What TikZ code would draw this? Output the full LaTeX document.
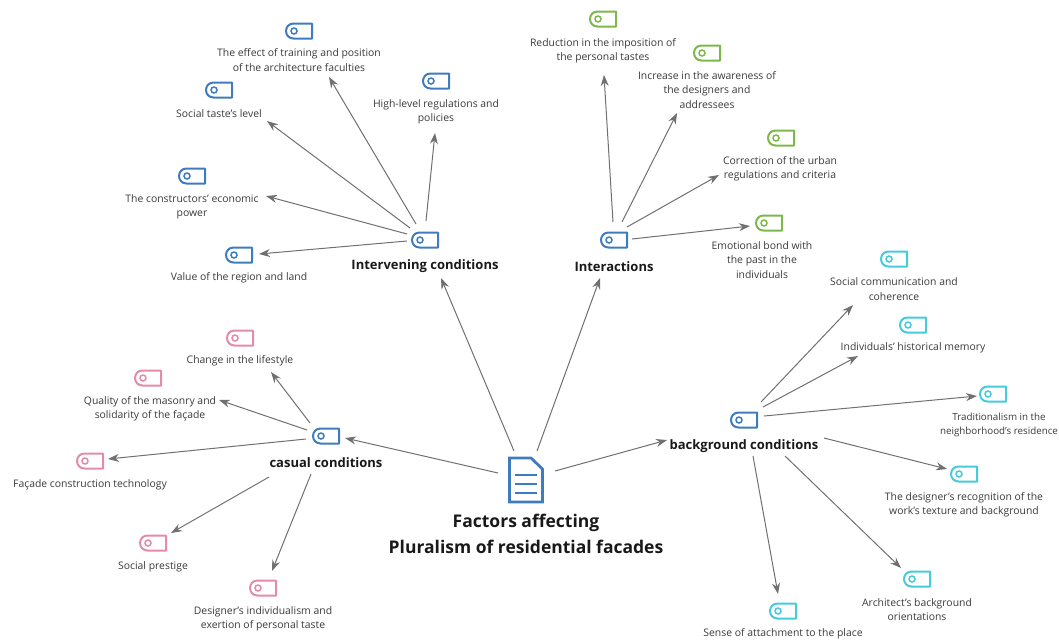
\documentclass[tikz,border=0pt]{standalone}
\usepackage{fontspec}
\setmainfont{Open Sans}
\usetikzlibrary{arrows.meta}
\definecolor{tblue}{HTML}{3F7CBF}
\definecolor{tgreen}{HTML}{7DB84A}
\definecolor{tpink}{HTML}{E48BAC}
\definecolor{tcyan}{HTML}{45CBDB}
\definecolor{linkgray}{HTML}{707070}
\definecolor{txt}{HTML}{3A3A3A}
\tikzset{
  tagicon/.style={minimum width=31pt,minimum height=20pt,inner sep=0pt,outer sep=0pt,
    path picture={
      \begin{scope}[shift={(path picture bounding box.center)}]
      \draw[#1,line width=2pt,line join=round]
        (-5.5,-7.5) -- (13,-7.5) -- (13,7.5) -- (-5.5,7.5)
        .. controls (-10,7.5) and (-13,4) .. (-13,0)
        .. controls (-13,-4) and (-10,-7.5) .. (-5.5,-7.5) -- cycle;
      \draw[#1,line width=1.5pt] (-5,0) circle (3pt);
      \end{scope}
    }},
  leaf/.style={font=\fontsize{10.4}{14.4}\selectfont,text=txt,align=center,inner sep=0pt,yshift=-1pt},
  hub/.style={font=\bfseries\fontsize{13}{14}\selectfont,text=black!90,align=center,inner sep=0pt,yshift=-1.5pt},
  rootlabel/.style={font=\bfseries\fontsize{17.5}{26}\selectfont,text=black!90,align=center,inner sep=0pt},
  docicon/.style={minimum width=40pt,minimum height=52pt,inner sep=0pt,outer sep=0pt,
    path picture={
      \begin{scope}[shift={(path picture bounding box.center)}]
      \draw[tblue,line width=2.8pt,line join=miter] (-16.5,-22) -- (5,-22) -- (16.5,-11) -- (16.5,22) -- (-16.5,22) -- cycle;
      \draw[tblue,line width=2.6pt] (-11,-5) -- (11,-5) (-11,4) -- (11,4) (-11,13) -- (11,13);
      \end{scope}
    }},
  conn/.style={draw=linkgray,line width=1pt,-{Stealth[length=11pt,width=8pt]}}
}
\newcommand{\cn}[6]{\draw[conn] ([shift={(#2,#3)}]#1.center) -- ([shift={(#5,#6)}]#4.center);}
\begin{document}
\begin{tikzpicture}[x=1pt,y=-1pt]
\useasboundingbox (0,0) rectangle (1059,641);
% root
\node[docicon] (root) at (526,480) {};
\node[rootlabel] (rootl) at (526,534) {Factors affecting\\Pluralism of residential facades};
% hubs
\node[tagicon=tblue] (I) at (425,240) {};
\node[hub] (Il) at (425,265) {Intervening conditions};
\node[tagicon=tblue] (N) at (614,240) {};
\node[hub] (Nl) at (614,265) {Interactions};
\node[tagicon=tblue] (C) at (326,436) {};
\node[hub] (Cl) at (326,461) {casual conditions};
\node[tagicon=tblue] (B) at (744,420) {};
\node[hub] (Bl) at (744,445) {background conditions};
% intervening leaves
\node[tagicon=tblue] (i1) at (239,255) {};
\node[leaf] (i1l) at (239,277) {Value of the region and land};
\node[tagicon=tblue] (i2) at (192,176) {};
\node[leaf] (i2l) at (192,206) {The constructors' economic\\power};
\node[tagicon=tblue] (i3) at (219,90) {};
\node[leaf] (i3l) at (219,113) {Social taste's level};
\node[tagicon=tblue] (i4) at (299,31) {};
\node[leaf] (i4l) at (299,59) {The effect of training and position\\of the architecture faculties};
\node[tagicon=tblue] (i5) at (436,81) {};
\node[leaf] (i5l) at (436,110.5) {High-level regulations and\\policies};
% interaction leaves
\node[tagicon=tgreen] (n1) at (603,19) {};
\node[leaf] (n1l) at (603,49.5) {Reduction in the imposition of\\the personal tastes};
\node[tagicon=tgreen] (n2) at (707,53) {};
\node[leaf] (n2l) at (707,89) {Increase in the awareness of\\the designers and\\addressees};
\node[tagicon=tgreen] (n3) at (781,138) {};
\node[leaf] (n3l) at (780,167.5) {Correction of the urban\\regulations and criteria};
\node[tagicon=tgreen] (n4) at (769,223) {};
\node[leaf] (n4l) at (762,259) {Emotional bond with\\the past in the\\individuals};
% casual leaves
\node[tagicon=tpink] (c1) at (240,338) {};
\node[leaf] (c1l) at (240,360) {Change in the lifestyle};
\node[tagicon=tpink] (c2) at (148,378) {};
\node[leaf] (c2l) at (150,408) {Quality of the masonry and\\solidarity of the façade};
\node[tagicon=tpink] (c3) at (90,461) {};
\node[leaf] (c3l) at (90,484) {Façade construction technology};
\node[tagicon=tpink] (c4) at (153,543) {};
\node[leaf] (c4l) at (153,566) {Social prestige};
\node[tagicon=tpink] (c5) at (263,588) {};
\node[leaf] (c5l) at (263,617.5) {Designer's individualism and\\exertion of personal taste};
% background leaves
\node[tagicon=tcyan] (b1) at (894,259) {};
\node[leaf] (b1l) at (894,288) {Social communication and\\coherence};
\node[tagicon=tcyan] (b2) at (913,325) {};
\node[leaf] (b2l) at (913,347) {Individuals' historical memory};
\node[tagicon=tcyan] (b3) at (993,394) {};
\node[leaf,font=\fontsize{9.8}{14.4}\selectfont] (b3l) at (999,424) {Traditionalism in the\\neighborhood's residence};
\node[tagicon=tcyan] (b4) at (964,474) {};
\node[leaf] (b4l) at (964,503.5) {The designer's recognition of the\\work's texture and background};
\node[tagicon=tcyan] (b5) at (917,579) {};
\node[leaf] (b5l) at (917,608.5) {Architect's background\\orientations};
\node[tagicon=tcyan] (b6) at (783,611) {};
\node[leaf] (b6l) at (783,633) {Sense of attachment to the place};
% connectors
\cn{root}{-12}{-29}{Il}{16}{11.5}
\cn{root}{11}{-29}{Nl}{-14}{11.5}
\cn{root}{-28}{-7}{C}{19}{2}
\cn{root}{29}{-9}{Bl}{-77}{-6.5}
\cn{I}{-18}{1}{i1}{20}{-1}
\cn{I}{-18}{-6}{i2l}{74}{-11}
\cn{I}{-15}{-12}{i3l}{48}{7}
\cn{I}{-9}{-16}{i4l}{30}{17}
\cn{I}{1}{-19}{i5l}{-1}{21.5}
\cn{N}{-1}{-18}{n1l}{1}{24.5}
\cn{N}{8}{-18}{n2l}{-30}{23}
\cn{N}{13}{-13}{n3l}{-61}{6.5}
\cn{N}{18}{-1}{n4}{-19}{3}
\cn{C}{-16}{-13}{c1l}{31}{11}
\cn{C}{-19}{-6}{c2l}{69}{-9}
\cn{C}{-20}{3}{c3}{18}{-2}
\cn{Cl}{-57}{14.5}{c4}{18}{-10}
\cn{Cl}{-15}{11.5}{c5}{9}{-17}
\cn{B}{17}{-18}{b1l}{-41}{16}
\cn{B}{19}{-13}{b2l}{-55}{8}
\cn{B}{20}{-4}{b3}{-16}{2}
\cn{Bl}{80}{-8.5}{b4}{-17}{-5}
\cn{Bl}{41}{9.5}{b5}{-16}{-11}
\cn{Bl}{9}{9.5}{b6}{-5}{-17}
\end{tikzpicture}
\end{document}
